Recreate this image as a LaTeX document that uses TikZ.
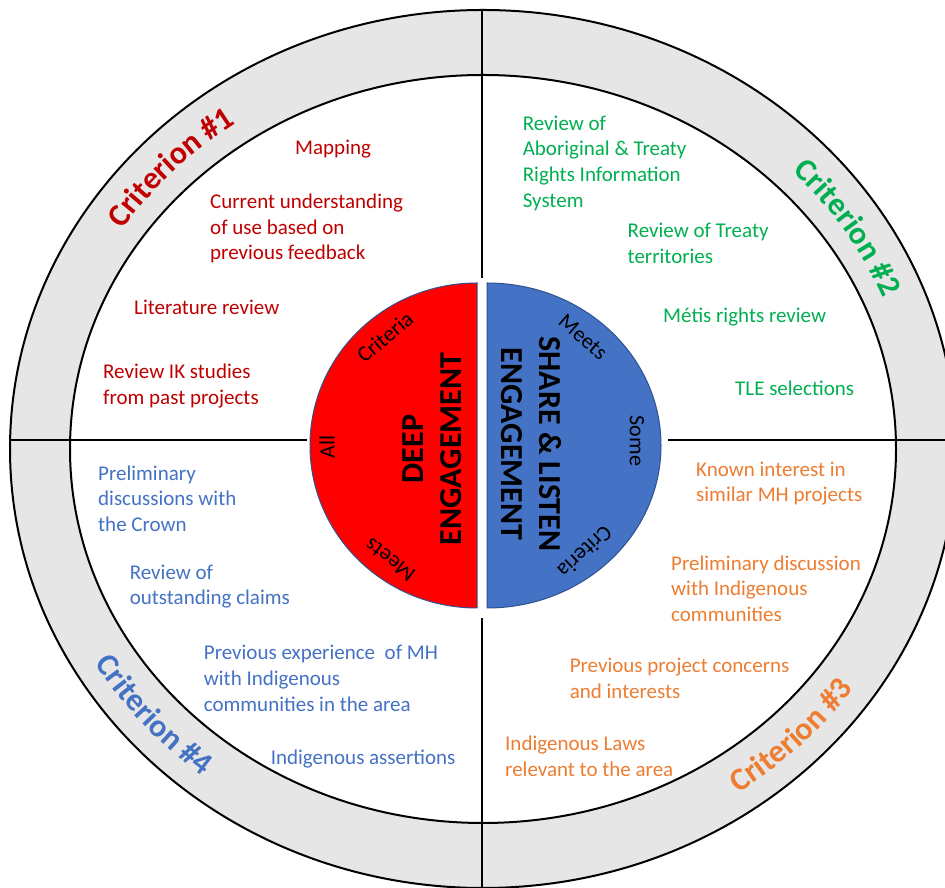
\documentclass[tikz,border=0pt]{standalone}
\usepackage{fontspec}
\setmainfont{Carlito}
\usetikzlibrary{decorations.text}
\definecolor{ringgray}{HTML}{E7E6E6}
\definecolor{cred}{HTML}{C00000}
\definecolor{cgreen}{HTML}{00B050}
\definecolor{corange}{HTML}{ED7D31}
\definecolor{cblue}{HTML}{4472C4}
\definecolor{deepred}{HTML}{FF0000}
\definecolor{edgeblue}{HTML}{2F528F}
\begin{document}
\begin{tikzpicture}[x=1pt,y=1pt,
  item/.style={font=\fontsize{21}{25.7}\selectfont, align=left, anchor=north west,
               inner sep=0pt, execute at begin node=\strut},
  rule/.style={line width=2pt, black},
  tag/.style={font=\fontsize{22}{26}\selectfont, inner sep=0pt},
  title/.style={font=\fontsize{32}{38}\selectfont\bfseries, align=center, inner sep=0pt},
  half/.style={draw=edgeblue, line width=1pt}]

% canvas
\fill[white] (0,0) rectangle (945,888);
\clip (0,0) rectangle (945,888);

\coordinate (O) at (483,439);

% outer grey ring
\filldraw[fill=ringgray, line width=2pt] (O) ellipse [x radius=473, y radius=439];
\filldraw[fill=white, line width=2pt] (O) ellipse [x radius=413, y radius=374];

% quadrant dividers
\coordinate (hl1) at (10,448);  \coordinate (hl2) at (307,448);
\coordinate (hr1) at (668,448); \coordinate (hr2) at (945,448);
\coordinate (vt1) at (482,878); \coordinate (vt2) at (482,610);
\coordinate (vb1) at (482,270); \coordinate (vb2) at (482,0);
\draw[rule] (hl1) -- (hl2);
\draw[rule] (hr1) -- (hr2);
\draw[rule] (vt1) -- (vt2);
\draw[rule] (vb1) -- (vb2);

% central half discs
\filldraw[half, fill=deepred] (477,605) arc[start angle=90, end angle=270, x radius=167, y radius=162.5] -- cycle;
\filldraw[half, fill=cblue] (487,605) arc[start angle=90, end angle=-90, x radius=174, y radius=162.5] -- cycle;

\node[title, rotate=90] (deep) at (432,439) {DEEP\\ENGAGEMENT};
\node[title, rotate=-90] (share) at (531.5,444) {SHARE \& LISTEN\\ENGAGEMENT};

\node[tag, rotate=40]   (rc) at (385,551) {Criteria};
\node[tag, rotate=90]   (ra) at (327,441) {All};
\node[tag, rotate=143]  (rm) at (390,328) {Meets};
\node[tag, rotate=-41]  (bm) at (583,551) {Meets};
\node[tag, rotate=-90]  (bs) at (637,447) {Some};
\node[tag, rotate=-137] (bc) at (585,336) {Criteria};

% criterion labels along the ring
\path[decorate, decoration={text along path, text align=center, text color=cred,
  text={|\fontsize{32}{38}\selectfont\bfseries|Criterion {\#}1}}]
  ([shift={(163:433 and 396.5)}]O) arc[start angle=163, end angle=109, x radius=433, y radius=396.5];
\path[decorate, decoration={text along path, text align=center, text color=cgreen,
  text={|\fontsize{32}{38}\selectfont\bfseries|Criterion {\#}2}}]
  ([shift={(60:433 and 396.5)}]O) arc[start angle=60, end angle=6, x radius=433, y radius=396.5];
\path[decorate, decoration={text along path, text align=center, text color=corange,
  text={|\fontsize{32}{38}\selectfont\bfseries|Criterion {\#}3}}]
  ([shift={(-72:453 and 416.5)}]O) arc[start angle=-72, end angle=-18, x radius=453, y radius=416.5];
\path[decorate, decoration={text along path, text align=center, text color=cblue,
  text={|\fontsize{32}{38}\selectfont\bfseries|Criterion {\#}4}}]
  ([shift={(-166:453 and 416.5)}]O) arc[start angle=-166, end angle=-112, x radius=453, y radius=416.5];

% criterion 1 items
\node[item, text=cred] (r1) at (295,752) {Mapping};
\node[item, text=cred] (r2) at (210,694.4) {Current understanding\\of use based on\\previous feedback};
\node[item, text=cred] (r3) at (134,592) {Literature review};
\node[item, text=cred] (r4) at (103,524) {Review IK studies\\from past projects};

% criterion 2 items
\node[item, text=cgreen] (g1) at (522.6,772.6) {Review of\\Aboriginal \& Treaty\\Rights Information\\System};
\node[item, text=cgreen] (g2) at (627.5,665) {Review of Treaty\\territories};
\node[item, text=cgreen] (g3) at (663,583.4) {Métis rights review};
\node[item, text=cgreen] (g4) at (735,511) {TLE selections};

% criterion 3 items
\node[item, text=corange] (o1) at (696,426.6) {Known interest in\\similar MH projects};
\node[item, text=corange] (o2) at (671,332.6) {Preliminary discussion\\with Indigenous\\communities};
\node[item, text=corange] (o3) at (569.6,230) {Previous project concerns\\and interests};
\node[item, text=corange] (o4) at (505,152) {Indigenous Laws\\relevant to the area};

% criterion 4 items
\node[item, text=cblue] (b1) at (98,422.6) {Preliminary\\discussions with\\the Crown};
\node[item, text=cblue] (b2) at (129.6,323.5) {Review of\\outstanding claims};
\node[item, text=cblue] (b3) at (203.7,243) {Previous experience~ of MH\\with Indigenous\\communities in the area};
\node[item, text=cblue] (b4) at (270.6,142) {Indigenous assertions};
\end{tikzpicture}
\end{document}
